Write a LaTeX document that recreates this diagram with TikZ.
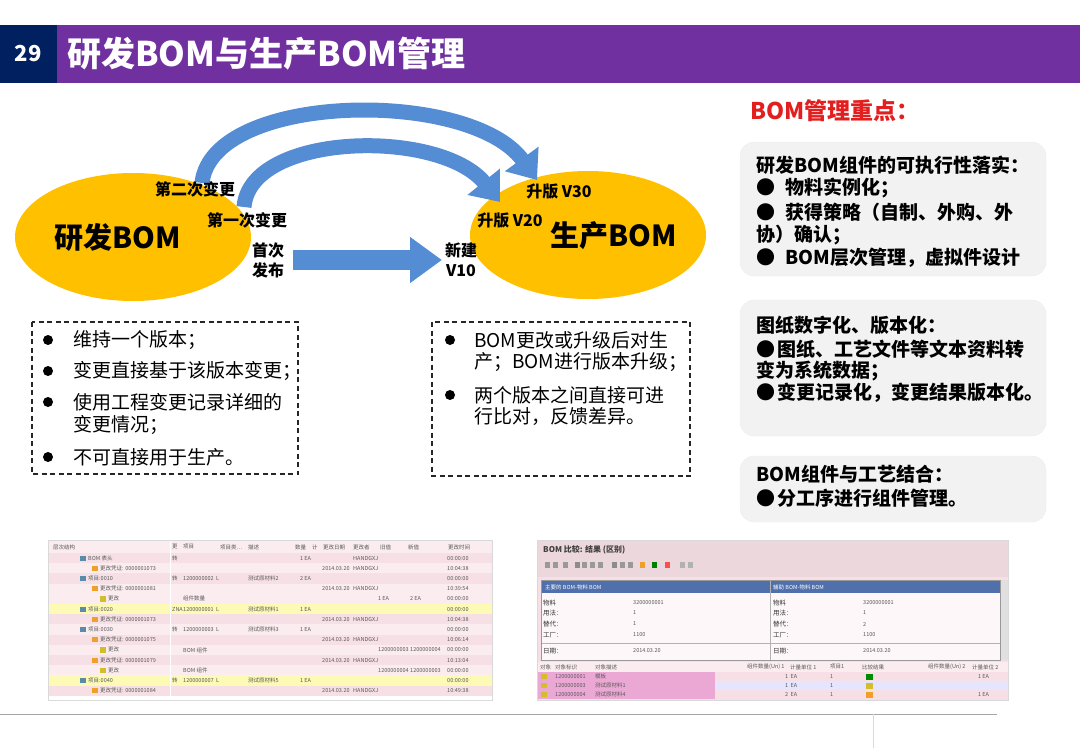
\documentclass[tikz,border=0pt]{standalone}
\usepackage{fontspec}
\setmainfont{Noto Sans CJK SC}
\usetikzlibrary{arrows.meta,shapes.geometric}
\definecolor{hdrpurple}{RGB}{112,48,160}
\definecolor{hdrnavy}{RGB}{0,32,96}
\definecolor{bomgold}{RGB}{255,192,0}
\definecolor{arrowblue}{RGB}{84,141,212}
\definecolor{keyred}{RGB}{226,30,30}
\definecolor{panelgray}{RGB}{242,242,242}
\definecolor{rowpink}{RGB}{246,224,229}
\definecolor{rowlight}{RGB}{250,236,239}
\definecolor{rowyellow}{RGB}{252,250,180}
\definecolor{shotblue}{RGB}{80,112,172}
\definecolor{shotmagenta}{RGB}{236,168,212}
\definecolor{iconorange}{RGB}{240,160,40}
\definecolor{iconyellow}{RGB}{210,190,40}
\definecolor{iconteal}{RGB}{90,140,170}
\newcommand{\fsz}[2]{\fontsize{#1}{#2}\selectfont}

\tikzset{
  bomellipse/.style={ellipse,fill=bomgold,minimum width=236pt,minimum height=128pt,inner sep=0},
  bomtitle/.style={font=\bfseries\fsz{29}{34},inner sep=0},
  bendarrow/.style={arrowblue,line width=15pt,-{Triangle[length=26pt,width=40pt]}},
  blockarrow/.style={arrowblue,line width=20pt,-{Triangle[length=32pt,width=44pt]}},
  steplabel/.style={font=\bfseries\fsz{16}{20},align=center,inner sep=0},
  notebox/.style={dash pattern=on 5pt off 3.5pt,line width=1.3pt,black!85},
  notetext/.style={font=\fsz{19}{23},anchor=west,inner sep=0},
  panel/.style={fill=panelgray,draw=black!7,rounded corners=14pt},
  paneltext/.style={font=\bfseries\fsz{19}{23},anchor=west,inner sep=0},
  tiny/.style={font=\fsz{5.5}{6.5},text=black!65,anchor=west,inner sep=0}
}

\begin{document}
\begin{tikzpicture}[x=1pt,y=-1pt]
  \useasboundingbox (0,0) rectangle (1080,748);
  % header bar
  \fill[hdrpurple] (57,25) rectangle (1080,83);
  \fill[hdrnavy] (0,25) rectangle (57,83);
  \node[white,font=\bfseries\fsz{22}{26}] (pagenum) at (28,54) {29};
  \node[white,font=\bfseries\fsz{34}{40},anchor=west,inner sep=0] (title) at (67,54) {研发BOM与生产BOM管理};

  % the two BOMs
  \node[bomellipse] (dev) at (133,237) {};
  \node[bomellipse] (prod) at (588,235) {};
  \node[bomtitle] (devtxt) at (118,237) {研发BOM};
  \node[bomtitle] (prodtxt) at (614,236) {生产BOM};

  % change arrows
  \coordinate (out2) at (202,183);
  \coordinate (in2) at (537,180);
  \coordinate (out1) at (244,207);
  \coordinate (in1) at (500,202);
  \coordinate (rel) at (293,260);
  \coordinate (new) at (442,260);
  \draw[bendarrow] (out2) .. controls (212,92) and (470,88) .. (in2);
  \draw[bendarrow] (out1) .. controls (250,132) and (440,128) .. (in1);
  \draw[blockarrow] (rel) -- (new);

  \node[steplabel] (second) at (195,189) {第二次变更};
  \node[steplabel] (first) at (247,220) {第一次变更};
  \node[steplabel] (firstrel) at (268,260) {首次\\发布};
  \node[steplabel] (v10) at (461,260) {新建\\V10};
  \node[steplabel] (v30) at (559,192) {升版 V30};
  \node[steplabel] (v20) at (510,221) {升版 V20};

  % notes under the BOMs
  \draw[notebox] (32,322) rectangle (298,474);
  \foreach \y in {340,371,402,457}{
    \fill (48,\y) circle (5);
  }
  \foreach \y/\t [count=\i] in {340/维持一个版本；,371/变更直接基于该版本变更；,402/使用工程变更记录详细的,425/变更情况；,457/不可直接用于生产。}
    \node[notetext] (devnote\i) at (73,\y) {\t};

  \draw[notebox] (432,322) rectangle (690,476);
  \foreach \y in {340,395}{
    \fill (450,\y) circle (5);
  }
  \foreach \y/\t [count=\i] in {340/BOM更改或升级后对生,362/产；BOM进行版本升级；,395/两个版本之间直接可进,417/行比对，反馈差异。}
    \node[notetext] (prodnote\i) at (474,\y) {\t};

  % key points
  \node[font=\bfseries\fsz{23}{28},text=keyred,anchor=west,inner sep=0] (keys) at (750,111) {BOM管理重点：};
  \draw[panel] (740,142) rectangle (1046,276);
  \draw[panel] (740,300) rectangle (1046,436);
  \draw[panel] (740,456) rectangle (1046,522);
  \foreach \y/\t [count=\i] in {165/研发BOM组件的可执行性落实：,
      188/●\hspace{10pt}物料实例化；,
      212/●\hspace{10pt}获得策略（自制、外购、外,
      235/协）确认；,
      258/●\hspace{10pt}BOM层次管理，虚拟件设计,
      325/图纸数字化、版本化：,
      349/●\hspace{2pt}图纸、工艺文件等文本资料转,
      371/变为系统数据；,
      393/●\hspace{2pt}变更记录化，变更结果版本化。,
      474/BOM组件与工艺结合：,
      498/●\hspace{2pt}分工序进行组件管理。}
    \node[paneltext] (key\i) at (756,\y) {\t};

  % screenshot: change history
  \begin{scope}
    \fill[rowlight] (48,540) rectangle (492,553);
    \foreach \r/\ix/\lbl/\tp/\item/\desc/\qty/\date/\who/\old/\new/\tm/\bg/\ic in {
      1/80/BOM 表头/转///1 EA//HANDGXJ///00:00:00/rowpink/iconteal,
      2/92/更改凭证: 0000001073/////2014.03.20/HANDGXJ///10:04:38/rowlight/iconorange,
      3/80/项目:0010/转/1200000002 \ L/测试原材料2/2 EA/////00:00:00/rowpink/iconteal,
      4/92/更改凭证: 0000001081/////2014.03.20/HANDGXJ///10:39:54/rowlight/iconorange,
      5/100/更改//组件数量/////1 EA/2 EA/00:00:00/rowlight/iconyellow,
      6/80/项目:0020/ZNA/1200000001 \ L/测试原材料1/1 EA/////00:00:00/rowyellow/iconteal,
      7/92/更改凭证: 0000001073/////2014.03.20/HANDGXJ///10:04:38/rowpink/iconorange,
      8/80/项目:0030/转/1200000003 \ L/测试原材料3/1 EA/////00:00:00/rowlight/iconteal,
      9/92/更改凭证: 0000001075/////2014.03.20/HANDGXJ///10:06:14/rowpink/iconorange,
      10/100/更改//BOM 组件/////1200000003/1200000004/00:00:00/rowlight/iconyellow,
      11/92/更改凭证: 0000001079/////2014.03.20/HANDGXJ///10:13:04/rowpink/iconorange,
      12/100/更改//BOM 组件/////1200000004/1200000003/00:00:00/rowlight/iconyellow,
      13/80/项目:0040/转/1200000007 \ L/测试原材料5/1 EA/////00:00:00/rowyellow/iconteal,
      14/92/更改凭证: 0000001084/////2014.03.20/HANDGXJ///10:49:38/rowpink/iconorange}{
      \fill[\bg] (48,{553+10.2*(\r-1)}) rectangle (492,{553+10.2*\r});
      \fill[\ic] (\ix,{553+10.2*(\r-1)+2.5}) rectangle ({\ix+6},{553+10.2*\r-2.5});
      \node[tiny] (hl\r) at ({\ix+8},{553+10.2*(\r-0.5)}) {\lbl};
      \node[tiny] (ht\r) at (172,{553+10.2*(\r-0.5)}) {\tp};
      \node[tiny] (hi\r) at (183,{553+10.2*(\r-0.5)}) {\item};
      \node[tiny] (hd\r) at (248,{553+10.2*(\r-0.5)}) {\desc};
      \node[tiny] (hq\r) at (300,{553+10.2*(\r-0.5)}) {\qty};
      \node[tiny] (hdt\r) at (322,{553+10.2*(\r-0.5)}) {\date};
      \node[tiny] (hw\r) at (353,{553+10.2*(\r-0.5)}) {\who};
      \node[tiny] (ho\r) at (378,{553+10.2*(\r-0.5)}) {\old};
      \node[tiny] (hn\r) at (410,{553+10.2*(\r-0.5)}) {\new};
      \node[tiny] (hm\r) at (447,{553+10.2*(\r-0.5)}) {\tm};
    }
    \foreach \x/\t [count=\i] in {53/层次结构,172/更,183/项目,220/{项目类…},248/描述,295/数量,312/计,323/更改日期,353/更改者,380/旧值,408/新值,448/更改时间}
      \node[tiny] (hh\i) at (\x,547) {\t};
    \draw[white,line width=0.8pt] (170,540) -- (170,696);
    \draw[black!15] (48,540) rectangle (492,700);
  \end{scope}

  % screenshot: BOM comparison
  \begin{scope}
    \fill[rowpink] (537,540) rectangle (1008,700);
    \fill[rowpink!80!black!20!rowpink] (537,540) rectangle (1008,577);
    \node[font=\bfseries\fsz{8}{9},text=black!75,anchor=west,inner sep=0] (cmptitle) at (543,550) {BOM 比较: 结果 (区别)};
    \foreach \x/\c in {545/black!40,553/black!40,563/black!40,575/black!45,582/black!40,590/black!40,598/black!40,612/black!45,620/black!40,628/black!40,640/iconorange,652/green!50!black,665/red!70,680/black!30,688/black!30}
      \fill[\c] (\x,562) rectangle ({\x+5},568);
    \fill[white!60!rowlight] (541,580) rectangle (1000,660);
    \fill[shotblue] (541,581) rectangle (1000,593);
    \node[tiny,text=white] (mainbom) at (545,587) {主要的 BOM-物料 BOM};
    \node[tiny,text=white] (auxbom) at (773,587) {辅助 BOM-物料 BOM};
    \draw[black!30] (770,581) -- (770,660);
    \draw[black!30] (541,643) -- (1000,643);
    \foreach \y/\k/\a/\b [count=\i] in {603/物料/3200000001/3200000001,613/用法：/1/1,624/替代：/1/2,635/工厂：/1100/1100,651/日期：/2014.03.20/2014.03.20}{
      \node[tiny,font=\fsz{6.5}{7.5},text=black!80] (lk\i) at (543,\y) {\k};
      \node[tiny] (la\i) at (633,\y) {\a};
      \node[tiny,font=\fsz{6.5}{7.5},text=black!80] (rk\i) at (773,\y) {\k};
      \node[tiny] (ra\i) at (863,\y) {\b};
    }
    \fill[black!12] (1000,580) rectangle (1008,660);
    \draw[black!40] (541,580) rectangle (1000,660);
    % result table
    \fill[rowlight] (537,662) rectangle (1008,672);
    \foreach \x/\t [count=\i] in {540/对象,555/对象标识,595/对象描述,747/组件数量(Un) 1,790/计量单位 1,830/项目1,862/比较结果,928/组件数量(Un) 2,972/计量单位 2}
      \node[tiny] (ch\i) at (\x,667) {\t};
    \foreach \r/\id/\d/\q/\res/\rq/\bg in {1/1200000001/模板/1/green!55!black/1 EA/rowpink,2/1200000003/测试原材料1/1/iconyellow//blue!10,3/1200000004/测试原材料4/2/iconorange/1 EA/rowpink}{
      \fill[\bg] (715,{672+9*(\r-1)}) rectangle (1008,{672+9*\r});
      \fill[shotmagenta] (537,{672+9*(\r-1)}) rectangle (715,{672+9*\r});
      \fill[iconyellow] (541,{672+9*(\r-1)+2}) rectangle (547,{672+9*\r-2});
      \node[tiny] (cid\r) at (555,{672+9*(\r-0.5)}) {\id};
      \node[tiny] (cd\r) at (595,{672+9*(\r-0.5)}) {\d};
      \node[tiny] (cq\r) at (785,{672+9*(\r-0.5)}) {\q\ \ EA};
      \node[tiny] (cp\r) at (830,{672+9*(\r-0.5)}) {1};
      \fill[\res] (866,{672+9*(\r-1)+1.5}) rectangle (873,{672+9*\r-1.5});
      \node[tiny] (cr\r) at (978,{672+9*(\r-0.5)}) {\rq};
    }
    \draw[black!15] (537,540) rectangle (1008,700);
  \end{scope}

  % footer rule
  \draw[black!35,line width=1pt] (0,714) -- (997,714);
  \draw[black!15] (873,714) -- (873,748);
\end{tikzpicture}
\end{document}
